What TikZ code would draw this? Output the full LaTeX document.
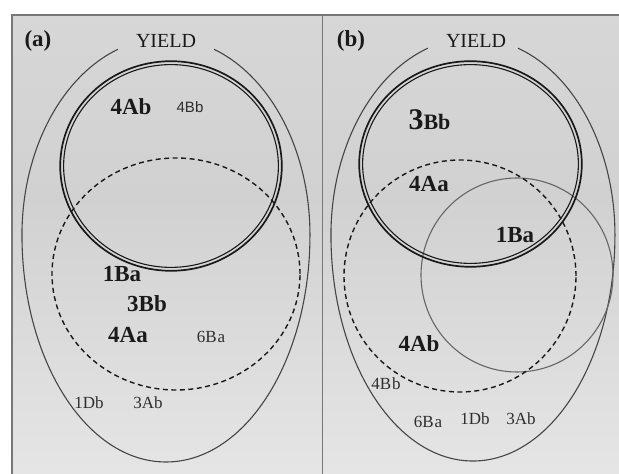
\documentclass[tikz,border=0pt]{standalone}
\usepackage{fontspec}
\setmainfont{Liberation Serif}
\newfontfamily\labsans{Liberation Sans}
\definecolor{bgtop}{HTML}{DEDEDE}
\definecolor{bgmid}{HTML}{D1D1D1}
\definecolor{bgbot}{HTML}{F6F6F6}
\definecolor{framec}{HTML}{777777}
\definecolor{outerc}{HTML}{454545}
\definecolor{grayc}{HTML}{666666}
\definecolor{txt}{HTML}{1A1A1A}
\definecolor{txtsmall}{HTML}{2E2E2E}
\pgfdeclareverticalshading{bgshade}{100bp}{color(0bp)=(bgbot); color(55bp)=(bgmid); color(100bp)=(bgtop)}
\tikzset{
  frameline/.style={draw=framec, line width=1.8pt},
  outerline/.style={draw=outerc, line width=1.1pt},
  dblout/.style={draw=black!90, line width=1.7pt},
  dblin/.style={draw=black!90, line width=1.1pt},
  dashline/.style={draw=black!90, line width=1.4pt, dash pattern=on 5pt off 3.5pt},
  grayline/.style={draw=grayc, line width=1.1pt},
  panlab/.style={font=\fontsize{23}{23}\selectfont\bfseries, text=txt, inner sep=0pt},
  yieldlab/.style={font=\fontsize{20}{20}\selectfont, text=txt, inner sep=0pt, anchor=base},
  biglab/.style={font=\fontsize{23}{23}\selectfont\bfseries, text=txt, inner sep=0pt, anchor=base},
  smalllab/.style={font=\fontsize{17}{17}\selectfont, text=txtsmall, inner sep=0pt, anchor=base},
  sanslab/.style={font=\labsans\fontsize{15}{15}\selectfont, text=txtsmall, inner sep=0pt, anchor=base}
}
\begin{document}
\begin{tikzpicture}[x=1pt,y=1pt]
\useasboundingbox (0,0) rectangle (619,474);
\fill[white] (0,0) rectangle (619,474);
\shade[shading=bgshade] (12,0) rectangle (619,459);
% frame
\draw[frameline] (12,0) -- (12,459) -- (619,459);
\draw[frameline] (322.5,0) -- (322.5,459);

% ---------- panel (a) ----------
\draw[outerline] (117.9,424.7)
  arc[start angle=109.5, end angle=180, x radius=144pt, y radius=197pt]
  arc[start angle=180, end angle=360, x radius=144pt, y radius=227pt]
  arc[start angle=0, end angle=70.5, x radius=144pt, y radius=197pt];
\draw[dblout] (171,308) ellipse[x radius=110.8pt, y radius=104.8pt];
\draw[dblin] (171,308) ellipse[x radius=107.4pt, y radius=101.4pt];
\draw[dashline] (176,200) ellipse[x radius=124pt, y radius=116pt];

\node[panlab] (pa) at (38,433) {(a)};
\node[yieldlab] (ya) at (166,426) {YIELD};
\node[biglab] (a4Ab) at (131,359) {4Ab};
\node[sanslab] (a4Bb) at (190,361) {4Bb};
\node[biglab] (a1Ba) at (122,192) {1Ba};
\node[biglab] (a3Bb) at (147,162) {3Bb};
\node[biglab] (a4Aa) at (128,131) {4Aa};
\node[smalllab] (a6Ba) at (211,131) {6B\kern1pt a};
\node[smalllab] (a1Db) at (89,65) {1Db};
\node[smalllab] (a3Ab) at (148,65) {3Ab};

% ---------- panel (b) ----------
\draw[outerline] (427.9,425.8)
  arc[start angle=108.5, end angle=180, x radius=142pt, y radius=197pt]
  arc[start angle=180, end angle=360, x radius=142pt, y radius=226pt]
  arc[start angle=0, end angle=71.5, x radius=142pt, y radius=197pt];
\draw[grayline] (517,199) ellipse[x radius=96pt, y radius=97pt];
\draw[dblout] (470.5,310) ellipse[x radius=111.3pt, y radius=102.8pt];
\draw[dblin] (470.5,310) ellipse[x radius=107.9pt, y radius=99.4pt];
\draw[dashline] (460,198) ellipse[x radius=116pt, y radius=116pt];

\node[panlab] (pb) at (351,433) {(b)};
\node[yieldlab] (yb) at (476,426) {YIELD};
\node[biglab] (b3Bb) at (429.5,344) {{\fontsize{30}{30}\selectfont 3}{\fontsize{22}{22}\selectfont Bb}};
\node[biglab] (b4Aa) at (429,282) {4Aa};
\node[biglab] (b1Ba) at (515,231) {1Ba};
\node[biglab] (b4Ab) at (419,122) {4Ab};
\node[smalllab] (b4Bb) at (386,84) {4B\kern1pt b};
\node[smalllab] (b6Ba) at (428,46) {6B\kern1pt a};
\node[smalllab] (b1Db) at (475,49) {1Db};
\node[smalllab] (b3Ab) at (521,49) {3Ab};
\end{tikzpicture}
\end{document}
